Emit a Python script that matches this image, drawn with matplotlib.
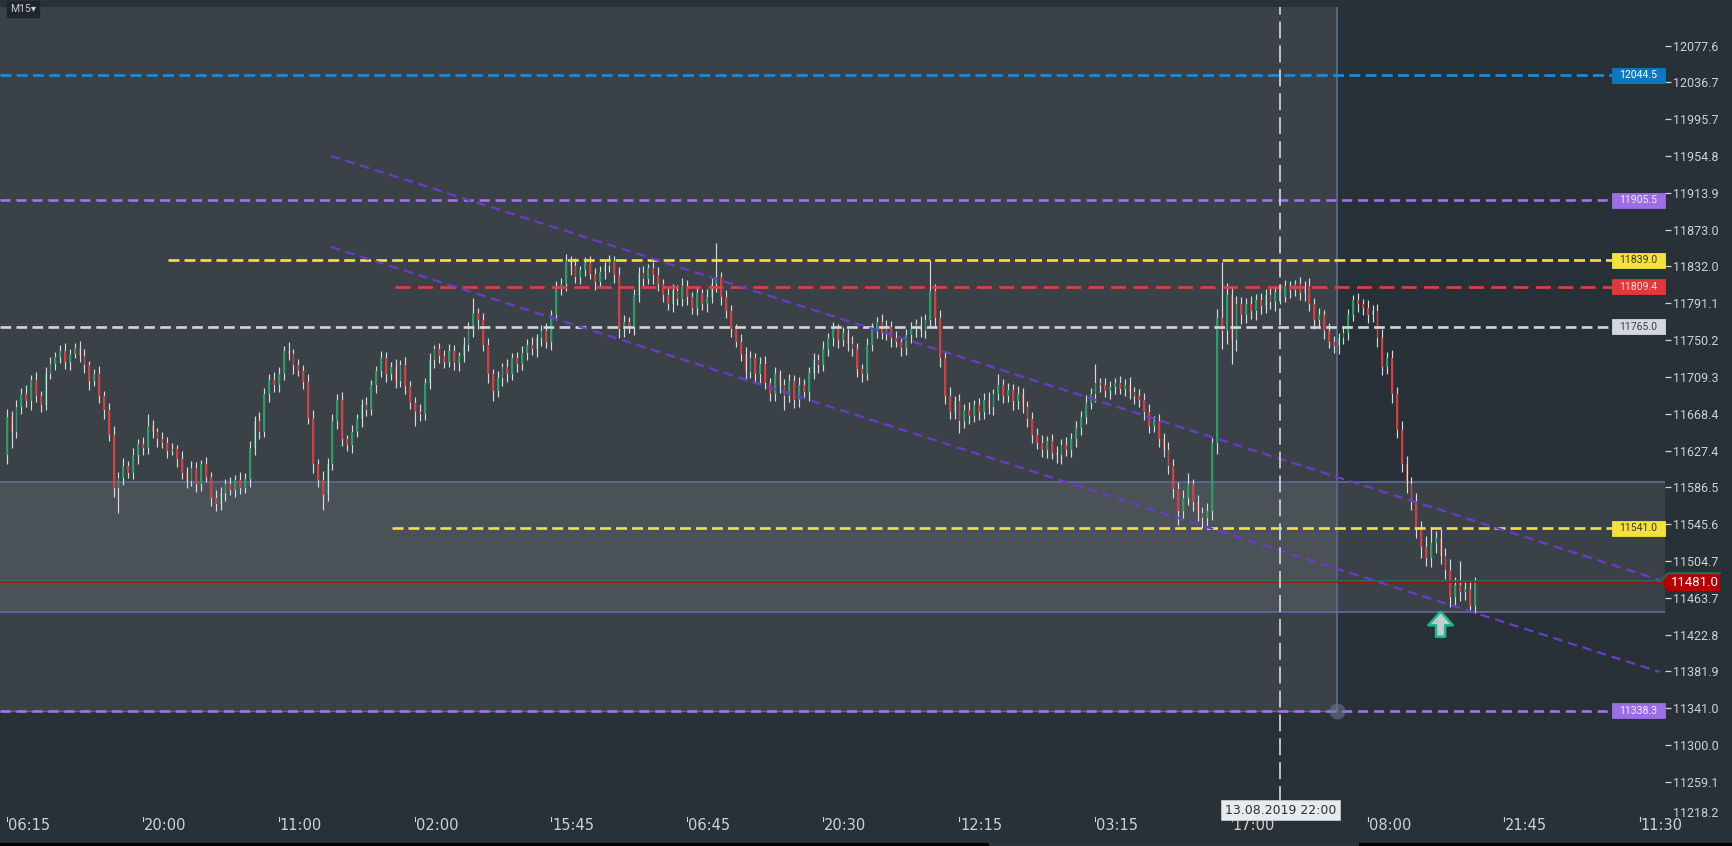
import numpy as np
import matplotlib.pyplot as plt
from matplotlib import transforms
from matplotlib.patches import Rectangle, Polygon

plt.rcParams['font.family'] = ['Roboto', 'DejaVu Sans']
plt.rcParams['lines.scale_dashes'] = False

# ---- candle data (M15, thinned to every other bar) ----
first_open = 11622
closes = [
    11665, 11648, 11676, 11690, 11682, 11706, 11688, 11678, 11712, 11724,
    11731, 11738, 11726, 11735, 11741, 11733, 11722, 11705, 11712, 11688,
    11672, 11645, 11586, 11597, 11610, 11603, 11622, 11635, 11630, 11655,
    11648, 11640, 11636, 11627, 11629, 11618, 11603, 11594, 11608, 11590,
    11612, 11598, 11575, 11568, 11580, 11590, 11584, 11595, 11586, 11596,
    11630, 11660, 11648, 11690, 11706, 11700, 11712, 11738, 11735, 11722,
    11716, 11704, 11664, 11612, 11595, 11578, 11612, 11660, 11684, 11640,
    11634, 11648, 11662, 11678, 11673, 11700, 11716, 11730, 11712, 11720,
    11705, 11723, 11699, 11680, 11670, 11668, 11702, 11728, 11740, 11733,
    11726, 11738, 11725, 11732, 11745, 11762, 11780, 11772, 11745, 11712,
    11694, 11708, 11720, 11712, 11730, 11724, 11736, 11745, 11740, 11752,
    11760, 11748, 11778, 11808, 11812, 11838, 11832, 11820, 11828, 11836,
    11824, 11815, 11826, 11832, 11838, 11822, 11762, 11770, 11765, 11800,
    11825, 11818, 11830, 11822, 11812, 11800, 11790, 11805, 11796, 11810,
    11798, 11786, 11802, 11790, 11798, 11812, 11820, 11798, 11782, 11762,
    11748, 11735, 11715, 11730, 11712, 11724, 11702, 11690, 11712, 11700,
    11688, 11705, 11684, 11700, 11692, 11714, 11728, 11722, 11740, 11752,
    11762, 11750, 11758, 11746, 11740, 11718, 11712, 11745, 11762, 11770,
    11758, 11765, 11752, 11748, 11741, 11756, 11762, 11768, 11760, 11772,
    11805, 11775, 11730, 11688, 11670, 11682, 11660, 11672, 11666, 11678,
    11670, 11684, 11676, 11690, 11700, 11688, 11695, 11682, 11690, 11676,
    11662, 11645, 11636, 11628, 11638, 11625, 11622, 11634, 11628, 11640,
    11652, 11665, 11680, 11690, 11702, 11700, 11694, 11698, 11702, 11696,
    11700, 11692, 11688, 11684, 11670, 11655, 11660, 11640, 11628, 11610,
    11585, 11560, 11575, 11590, 11570, 11558, 11552, 11560, 11636, 11775,
    11760, 11800, 11750, 11790, 11778, 11790, 11782, 11795, 11788, 11800,
    11792, 11804, 11798, 11810, 11806, 11812, 11803, 11810, 11790, 11772,
    11778, 11760, 11748, 11744, 11752, 11758, 11778, 11795, 11790, 11786,
    11778, 11782, 11752, 11720, 11730, 11690, 11650, 11612, 11590, 11570,
    11540, 11520, 11508, 11525, 11530, 11510, 11495, 11465, 11478, 11470,
    11474, 11455, 11481,
]
# wick lengths above the body top / below the body bottom (points)
upper_wick = [
    9, 6, 8, 7, 10, 5, 9, 6, 8, 7,
    6, 7, 9, 5, 6, 8, 7, 5, 6, 9,
    6, 8, 10, 7, 9, 6, 8, 5, 7, 13,
    6, 5, 8, 6, 7, 5, 9, 6, 8, 7,
    5, 8, 6, 9, 7, 6, 8, 5, 9, 7,
    8, 6, 10, 7, 6, 9, 8, 6, 10, 5,
    7, 6, 9, 8, 6, 10, 7, 8, 6, 9,
    5, 8, 6, 7, 9, 6, 5, 8, 7, 6,
    9, 5, 8, 6, 7, 9, 6, 8, 5, 7,
    6, 8, 7, 5, 9, 8, 17, 6, 8, 7,
    6, 8, 5, 9, 6, 7, 8, 6, 9, 5,
    7, 9, 6, 8, 7, 8, 6, 9, 5, 7,
    8, 6, 7, 5, 7, 6, 9, 8, 6, 7,
    6, 8, 5, 7, 9, 6, 8, 7, 6, 9,
    7, 6, 8, 5, 9, 7, 38, 6, 8, 7,
    6, 9, 7, 8, 6, 7, 9, 6, 8, 5,
    7, 8, 6, 9, 7, 6, 8, 7, 9, 6,
    8, 6, 7, 5, 9, 7, 6, 8, 7, 6,
    9, 7, 6, 8, 5, 7, 8, 6, 9, 7,
    34, 8, 9, 7, 10, 6, 8, 7, 9, 6,
    8, 7, 9, 6, 12, 7, 8, 6, 9, 7,
    6, 8, 7, 9, 6, 8, 7, 6, 9, 7,
    8, 6, 9, 7, 22, 6, 8, 7, 6, 8,
    7, 9, 6, 8, 7, 9, 6, 8, 7, 9,
    8, 7, 9, 12, 6, 8, 7, 9, 6, 10,
    62, 14, 10, 9, 8, 7, 9, 6, 8, 7,
    9, 6, 8, 7, 6, 5, 8, 6, 9, 7,
    8, 6, 9, 7, 6, 8, 7, 5, 8, 6,
    9, 7, 8, 10, 7, 9, 8, 10, 9, 8,
    10, 9, 12, 17, 8, 10, 9, 12, 9, 27,
    8, 9, 6,
]
lower_wick = [
    9, 18, 7, 8, 6, 9, 7, 8, 6, 5,
    7, 6, 8, 9, 5, 7, 8, 10, 6, 8,
    9, 7, 10, 28, 8, 6, 7, 9, 8, 6,
    7, 9, 6, 8, 5, 9, 7, 8, 6, 9,
    8, 6, 9, 8, 7, 9, 6, 8, 7, 6,
    9, 7, 8, 6, 9, 7, 8, 6, 7, 9,
    6, 8, 7, 9, 8, 17, 7, 6, 9, 8,
    7, 9, 6, 8, 7, 6, 9, 7, 8, 6,
    8, 7, 9, 6, 15, 8, 7, 6, 9, 8,
    7, 6, 8, 9, 6, 7, 8, 9, 7, 10,
    12, 7, 9, 8, 6, 9, 7, 8, 6, 9,
    8, 7, 9, 6, 8, 7, 9, 6, 8, 7,
    6, 9, 7, 8, 6, 8, 9, 8, 7, 9,
    7, 8, 6, 9, 7, 8, 6, 9, 7, 8,
    9, 7, 8, 6, 9, 7, 8, 9, 7, 8,
    6, 8, 9, 7, 8, 9, 6, 8, 7, 9,
    16, 7, 9, 8, 6, 9, 7, 8, 6, 7,
    8, 9, 6, 8, 7, 9, 8, 6, 7, 9,
    7, 8, 9, 6, 8, 7, 9, 8, 6, 7,
    8, 9, 10, 9, 8, 7, 13, 8, 9, 7,
    9, 7, 8, 9, 6, 8, 7, 9, 8, 7,
    8, 9, 7, 8, 9, 7, 8, 9, 7, 8,
    9, 7, 8, 6, 9, 8, 7, 9, 8, 6,
    8, 7, 9, 8, 9, 8, 7, 9, 8, 9,
    10, 15, 9, 8, 10, 9, 11, 8, 10, 12,
    20, 14, 26, 12, 10, 9, 8, 10, 9, 8,
    7, 9, 8, 6, 9, 7, 8, 9, 7, 9,
    8, 9, 7, 8, 9, 6, 8, 7, 9, 8,
    9, 8, 10, 9, 8, 10, 9, 8, 10, 9,
    10, 12, 9, 10, 11, 9, 10, 12, 9, 10,
    9, 7, 8,
]

time_labels = ['06:15', '20:00', '11:00', '02:00', '15:45', '06:45', '20:30',
               '12:15', '03:15', '17:00', '08:00', '21:45', '11:30']
bars_per_label = 28
price_ticks = [12077.6, 12036.7, 11995.7, 11954.8, 11913.9, 11873.0, 11832.0,
               11791.1, 11750.2, 11709.3, 11668.4, 11627.4, 11586.5, 11545.6,
               11504.7, 11463.7, 11422.8, 11381.9, 11341.0, 11300.0, 11259.1]
bottom_tick = 11218.2

# drawn levels (price, first bar; None = from the left edge)
level_prices = [12044.5, 11905.5, 11839.0, 11809.4, 11765.0, 11541.0, 11338.3]
level_start = [None, None, 33.2, 79.9, None, 79.3, None]

# descending channel (bar, price at both ends)
channel_bars = [66.7, 340.1]
channel_upper = [11954.8, 11483.5]
channel_lower = [11853.6, 11381.3]

# zones
band_top, band_bottom = 11592.8, 11448.3
range_end_bar, range_low = 273.7, 11338.3
cursor_bar, cursor_label = 262, '13.08.2019 22:00'
signal_bar, signal_tip, signal_tail = 295, 11448.3, 11420.5
last_price = 11481.0

# ---- styles ----
BG = '#283137'
AXC = '#cdd2d5'
GREEN, RED, WICK = '#22a267', '#e23a3c', '#d5dadd'
ZONE_EDGE = '#5c6792'
level_line_colors = ['#1b8fd2', '#a074ec', '#f2e43a', '#e0403f', '#d0d6da', '#f2e43a', '#a074ec']
level_box_colors = ['#0b79c2', '#9c6de4', '#f4e23a', '#e2383a', '#d2d8dc', '#f4e23a', '#9c6de4']
level_text_colors = ['#ffffff', '#f3ecff', '#3a3a2a', '#f8dede', '#3a4248', '#3a3a2a', '#f3ecff']
level_dashes = [(7.9, 3.8), (7.2, 4.3), (7.9, 3.6), (10.8, 5.3), (7.7, 3.8), (7.9, 3.6), (7.2, 4.3)]

W, H = 1732, 846
fig = plt.figure(figsize=(W / 100, H / 100), dpi=100, facecolor=BG)
ax = fig.add_axes([0, 3 / H, 1665 / W, 836 / H])
ax.set_facecolor(BG)
for s in ax.spines.values():
    s.set_visible(False)

px_per_bar = 136.1 / bars_per_label
x_left = -6.7 / px_per_bar
x_right = x_left + 1665 / px_per_bar
y_low, y_high = 11191.2, 12120.4
ax.set_xlim(x_left, x_right)
ax.set_ylim(y_low, y_high)
box_left = x_left + 1612 / px_per_bar
px_per_point = 836 / (y_high - y_low)

# highlighted zones
ax.add_patch(Rectangle((x_left, range_low), range_end_bar - x_left, y_high - range_low,
                       fc='white', alpha=0.085, lw=0, zorder=0))
ax.add_patch(Rectangle((x_left, band_bottom), x_right - x_left, band_top - band_bottom,
                       fc='white', alpha=0.085, lw=0, zorder=0))
ax.hlines([band_top, band_bottom], x_left, x_right, color=ZONE_EDGE, lw=1.4, zorder=1)
ax.vlines(range_end_bar, range_low, y_high, color=ZONE_EDGE, lw=1.3, zorder=1)
ax.hlines(range_low, x_left, range_end_bar, color=ZONE_EDGE, lw=1.0, zorder=1)

# candles
c = np.array(closes, dtype=float)
o = np.concatenate([[first_open], c[:-1]])
x = np.arange(len(c))
top = np.maximum(o, c)
bot = np.minimum(o, c)
ax.vlines(x, bot - np.array(lower_wick), top + np.array(upper_wick),
          color=WICK, lw=0.85, zorder=3)
ax.bar(x, np.maximum(top - bot, 1.6), bottom=bot, width=0.36,
       color=np.where(c >= o, GREEN, RED), lw=0, zorder=4)

# last price line (green over red)
ax.axhline(last_price, color='#b00000', lw=1.1, zorder=5)
up_tr = transforms.offset_copy(ax.transData, fig=fig, x=0, y=1.6, units='dots')
ax.plot([x_left, x_right], [last_price, last_price], color='#0d8050', lw=1.1,
        transform=up_tr, zorder=5)

# horizontal levels
for p, st, lc, ds in zip(level_prices, level_start, level_line_colors, level_dashes):
    ax.plot([x_left if st is None else st, box_left], [p, p], color=lc, lw=1.9,
            dashes=ds, zorder=6, solid_capstyle='butt', dash_capstyle='butt')

# channel
for ys in (channel_upper, channel_lower):
    ax.plot(channel_bars, ys, color='#6a3cc8', lw=1.6, dashes=(6.8, 4.2), zorder=6)

# cursor line with date label
inv = ax.transData.inverted()
cursor_bottom = inv.transform((0, H - 803))[1]
ax.plot([cursor_bar, cursor_bar], [cursor_bottom, y_high], color='#c8cdd1', lw=1.3,
        dashes=(12.2, 5.0), zorder=6)
bx = transforms.blended_transform_factory(ax.transData, fig.transFigure)
ax.text(cursor_bar, (H - 810) / H, cursor_label, transform=bx, ha='center', va='center',
        fontsize=9, color='#2b2f33', family=['Liberation Sans Narrow', 'DejaVu Sans'],
        bbox=dict(boxstyle='square,pad=0.3', fc='#e8ebed', ec='#c4c8cc', lw=0.6), zorder=8)

# range handle
ax.plot(range_end_bar, range_low, 'o', ms=11.5, color='#6a7590', alpha=0.6, mec='none',
        zorder=7)

# signal arrow
ax.annotate('', xy=(signal_bar, signal_tip), xytext=(signal_bar, signal_tail),
            arrowprops=dict(arrowstyle='simple,head_length=0.75,head_width=1.35,tail_width=0.5',
                            mutation_scale=13, fc='#c3cbcf', ec='#1cb98b', lw=1.8,
                            shrinkA=0, shrinkB=0),
            zorder=7)

# level boxes on the right (53 x 15 px)
box_h = 15 / px_per_point
for p, bc, tc in zip(level_prices, level_box_colors, level_text_colors):
    ax.add_patch(Rectangle((box_left, p - box_h / 2), x_right - box_left, box_h,
                           fc=bc, ec=bc, lw=0.6, zorder=9, clip_on=False))
    ax.text((box_left + x_right) / 2, p, f'{p:.1f}', ha='center', va='center',
            fontsize=7.6, color=tc, zorder=10, clip_on=False)

# price axis
ax.yaxis.tick_right()
ax.set_yticks(price_ticks)
ax.set_yticklabels([f'{t:.1f}' for t in price_ticks])
ax.tick_params(axis='y', direction='out', length=4.6, width=0.9, color=AXC,
               labelcolor=AXC, labelsize=9, pad=1)
ax.set_xticks([])
fig.text(1673 / W, (H - 813) / H, f'{bottom_tick:.1f}', ha='left', va='center',
         fontsize=9, color=AXC)

# last price tag
y_px = ax.transData.transform((0, last_price))[1]
tag = [(1661, y_px), (1668, y_px + 9), (1720, y_px + 9), (1720, y_px - 9), (1668, y_px - 9)]
fig.add_artist(Polygon(tag, closed=True, fc='#b40000', ec='none', transform=None))
fig.add_artist(plt.Line2D([1661, 1668, 1720], [y_px + 1.5, y_px + 9, y_px + 9],
                          color='#0d8050', lw=1.3, transform=None))
fig.text(1695 / W, y_px / H, f'{last_price:.1f}', ha='center', va='center',
         fontsize=9.5, color='white')

# time axis
for k, lab in enumerate(time_labels):
    xb = k * bars_per_label
    ax.plot([xb, xb], [(H - 817) / H, (H - 821) / H], transform=bx, color=AXC,
            lw=0.8, clip_on=False)
    ax.text(xb + 0.2, (H - 825) / H, lab, transform=bx, ha='left', va='center',
            fontsize=10.5, color=AXC, family=['Liberation Sans Narrow', 'DejaVu Sans'],
            clip_on=False)

# timeframe badge
fig.text(10 / W, (H - 9) / H, 'M15\u25BE', ha='left', va='center', fontsize=7.5,
         color='#c8cdd0', bbox=dict(boxstyle='square,pad=0.3', fc='#1e262b', ec='#1e262b'))

# scrollbar strip at the bottom
fig.add_artist(Rectangle((0, 0), 1, 3 / H, transform=fig.transFigure, fc='black', lw=0))
fig.add_artist(Rectangle((989 / W, 0), 370 / W, 3 / H, transform=fig.transFigure,
                         fc='#2c353b', lw=0))

fig.savefig('out.png', dpi=100, facecolor=fig.get_facecolor())
